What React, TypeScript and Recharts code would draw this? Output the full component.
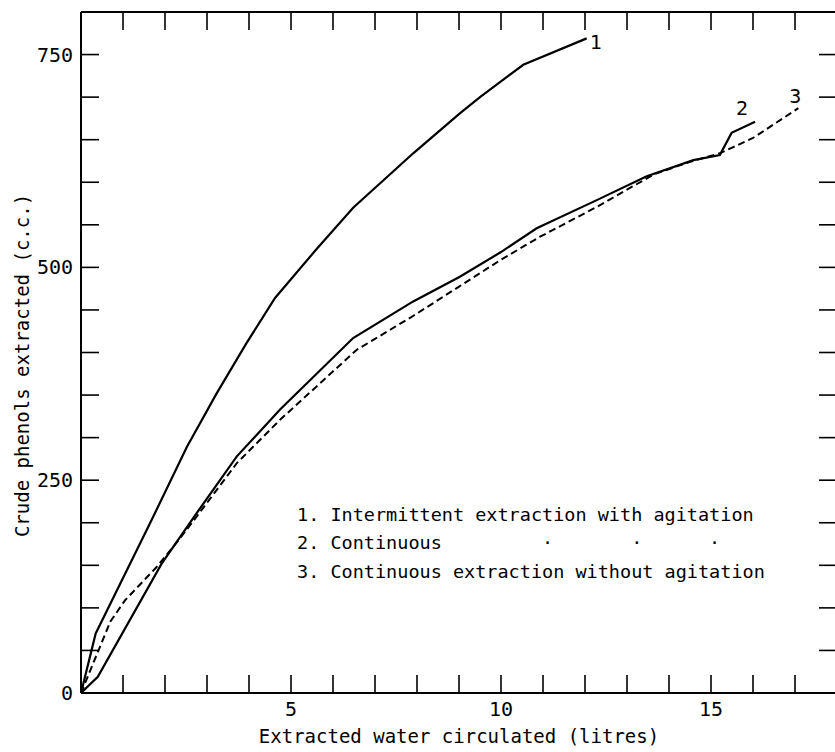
import React from 'react';
import { LineChart, Line, XAxis, YAxis, Legend } from 'recharts';

const FONT = "'DejaVu Sans Mono', 'Liberation Mono', monospace";

const seriesTags = ['1', '2', '3'];
const seriesNames = [
  'Intermittent extraction with agitation',
  'Continuous',
  'Continuous extraction without agitation',
];

const curve1 = [
  { x: 0, y: 0 }, { x: 0.35, y: 70 }, { x: 1.64, y: 199 }, { x: 2.52, y: 289 },
  { x: 3.23, y: 352 }, { x: 3.94, y: 411 }, { x: 4.62, y: 464 }, { x: 5.6, y: 521 },
  { x: 6.48, y: 570 }, { x: 7.91, y: 634 }, { x: 9.02, y: 681 }, { x: 9.5, y: 700 },
  { x: 10.53, y: 738 }, { x: 12.04, y: 769 },
];

const curve2 = [
  { x: 0, y: 0 }, { x: 0.4, y: 19 }, { x: 1.92, y: 152 }, { x: 2.75, y: 211 },
  { x: 3.71, y: 278 }, { x: 4.74, y: 333 }, { x: 6.48, y: 417 }, { x: 7.91, y: 460 },
  { x: 9.02, y: 489 }, { x: 10.0, y: 518 }, { x: 10.85, y: 546 }, { x: 12.28, y: 579 },
  { x: 13.47, y: 607 }, { x: 14.58, y: 626 }, { x: 15.21, y: 632 }, { x: 15.49, y: 658 },
  { x: 16.05, y: 671 },
];

const curve3 = [
  { x: 0, y: 0 }, { x: 0.7, y: 84 }, { x: 1.05, y: 109 }, { x: 1.8, y: 148 },
  { x: 2.3, y: 178 }, { x: 2.75, y: 207 }, { x: 3.71, y: 270 }, { x: 4.74, y: 321 },
  { x: 6.56, y: 403 }, { x: 7.91, y: 443 }, { x: 9.02, y: 478 }, { x: 10.0, y: 509 },
  { x: 10.93, y: 536 }, { x: 12.28, y: 571 }, { x: 13.63, y: 609 }, { x: 14.5, y: 624 },
  { x: 15.21, y: 634 }, { x: 16.0, y: 652 }, { x: 17.08, y: 687 },
];

const xTicks = [0, 1, 2, 3, 4, 5, 6, 7, 8, 9, 10, 11, 12, 13, 14, 15, 16, 17, 18];
const xTickLabels = [5, 10, 15];
const yTicks = [0, 50, 100, 150, 200, 250, 300, 350, 400, 450, 500, 550, 600, 650, 700, 750];
const yTickLabels = [0, 250, 500, 750];
const dittoCols = [22, 30, 37];

const xLabel = 'Extracted water circulated (litres)';
const yLabel = 'Crude phenols extracted (c.c.)';

const endLabel = (tag: string, count: number, dx: number, dy: number) => (props: any) => {
  const { index } = props;
  const x = props.x ?? props.viewBox?.x;
  const y = props.y ?? props.viewBox?.y;
  if (index !== count - 1 || x == null) return <g />;
  return (
    <text x={x + dx} y={y + dy} textAnchor="middle" dominantBaseline="central"
      fontFamily={FONT} fontSize={20} fill="#000">{tag}</text>
  );
};

const renderYLabel = (p: any) => {
  const vb = p.viewBox || { x: 0, y: 13, width: 81, height: 680 };
  const cx = vb.x + 22;
  const cy = vb.y + vb.height / 2 + 13;
  return (
    <text x={cx} y={cy} transform={`rotate(-90 ${cx} ${cy})`} textAnchor="middle"
      dominantBaseline="central" fontFamily={FONT} fontSize={19} fill="#000">{yLabel}</text>
  );
};

const legendLine = (i: number) => {
  let s = `${seriesTags[i]}. ${seriesNames[i]}`;
  if (i === 1) {
    const arr = s.padEnd(dittoCols[dittoCols.length - 1] + 1, ' ').split('');
    dittoCols.forEach((c) => (arr[c] = '\u00b7'));
    s = arr.join('');
  }
  return s;
};

const renderLegend = () => (
  <div style={{ fontFamily: FONT, fontSize: 18.5, lineHeight: '28.3px', color: '#000', whiteSpace: 'pre' }}>
    {seriesNames.map((_, i) => (
      <div key={i}>{legendLine(i)}</div>
    ))}
  </div>
);

export default function App() {
  const axisCommon = {
    stroke: '#000',
    axisLine: { stroke: '#000', strokeWidth: 2 },
    tickLine: { stroke: '#000', strokeWidth: 1.6 },
  };
  return (
    <div style={{ position: 'absolute', left: 0, top: 0, width: 835, height: 752, overflow: 'hidden', background: '#fff' }}>
      <LineChart width={850} height={752} margin={{ top: 12, right: 0, bottom: 0, left: 0 }}>
        <XAxis
          xAxisId="bottom" type="number" dataKey="x" domain={[0, 18]} ticks={xTicks} interval={0}
          height={59} tickSize={-18} tickMargin={27} {...axisCommon}
          tick={{ fill: '#000', fontSize: 20, fontFamily: FONT }}
          tickFormatter={(v: number) => (xTickLabels.includes(v) ? String(v) : '')}
          label={{ value: xLabel, position: 'insideBottom', offset: 9, fill: '#000', fontSize: 19, fontFamily: FONT }}
        />
        <XAxis
          xAxisId="top" orientation="top" type="number" dataKey="x" domain={[0, 18]} ticks={xTicks} interval={0}
          height={1} mirror tickSize={18} {...axisCommon}
          tick={{ fill: '#000', fontSize: 1 }}
          tickFormatter={() => ''}
        />
        <YAxis
          yAxisId="left" type="number" domain={[0, 800]} ticks={yTicks} interval={0}
          width={81} tickSize={-18} tickMargin={26} {...axisCommon}
          tick={{ fill: '#000', fontSize: 20, fontFamily: FONT }}
          tickFormatter={(v: number) => (yTickLabels.includes(v) ? String(v) : '')}
          label={renderYLabel}
        />
        <YAxis
          yAxisId="right" orientation="right" type="number" domain={[0, 800]} ticks={yTicks} interval={0}
          width={13} tickSize={-18} {...axisCommon}
          tick={{ fill: '#000', fontSize: 1 }}
          tickFormatter={() => ''}
        />
        <Legend layout="vertical" align="center" verticalAlign="middle"
          wrapperStyle={{ position: 'absolute', left: 297, top: 501, width: 'auto', height: 'auto' }}
          content={renderLegend} />
        <Line data={curve3} dataKey="y" name="frame" xAxisId="top" yAxisId="right" type="linear"
          stroke="none" strokeWidth={0} dot={false} activeDot={false} legendType="none" isAnimationActive={false} />
        <Line data={curve1} dataKey="y" name={seriesNames[0]} xAxisId="bottom" yAxisId="left" type="linear"
          stroke="#000" strokeWidth={2.2} dot={false} isAnimationActive={false}
          label={endLabel(seriesTags[0], curve1.length, 9, 4)} />
        <Line data={curve2} dataKey="y" name={seriesNames[1]} xAxisId="bottom" yAxisId="left" type="linear"
          stroke="#000" strokeWidth={2.2} dot={false} isAnimationActive={false}
          label={endLabel(seriesTags[1], curve2.length, -13, -14)} />
        <Line data={curve3} dataKey="y" name={seriesNames[2]} xAxisId="bottom" yAxisId="left" type="linear"
          stroke="#000" strokeWidth={2} strokeDasharray="7 4" dot={false} isAnimationActive={false}
          label={endLabel(seriesTags[2], curve3.length, -3, -12)} />
      </LineChart>
    </div>
  );
}
